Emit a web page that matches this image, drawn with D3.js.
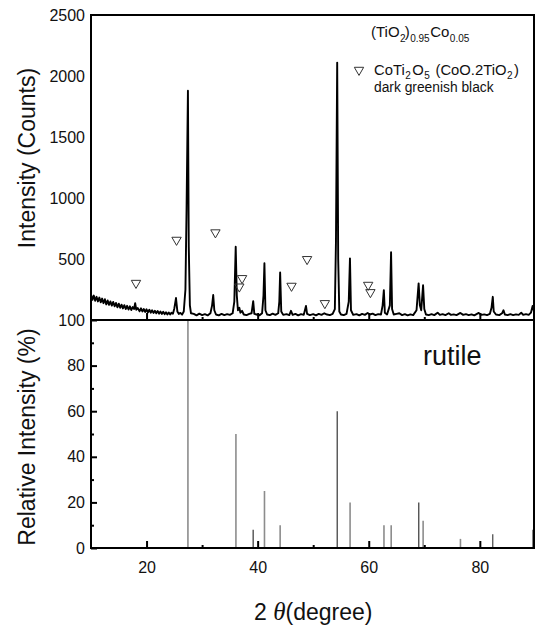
<!DOCTYPE html>
<html>
<head>
<meta charset="utf-8">
<script src="https://cdn.jsdelivr.net/npm/d3@7"></script>
<style>
  body { margin: 0; background: #fff; }
  text { font-family: "Liberation Sans", Arial, sans-serif; fill: #111; }
</style>
</head>
<body>
<div id="chart"></div>
<script>
// XRD pattern of (TiO2)0.95Co0.05, [2theta, counts]
var spectrum = [
  [10.00, 210], [10.25, 165], [10.50, 200], [10.75, 158], [11.00, 190], [11.25, 152],
  [11.50, 184], [11.75, 145], [12.00, 176], [12.25, 138], [12.50, 170], [12.75, 128],
  [13.00, 160], [13.25, 124], [13.50, 152], [13.75, 118], [14.00, 148], [14.25, 112],
  [14.50, 140], [14.75, 104], [15.00, 134], [15.25, 100], [15.50, 126], [15.75, 95],
  [16.00, 122], [16.25, 90], [16.50, 116], [16.75, 86], [17.00, 112], [17.25, 82],
  [17.50, 106], [17.75, 90], [17.95, 138], [18.15, 84], [18.40, 98], [18.75, 72],
  [19.00, 96], [19.25, 70], [19.50, 90], [19.75, 66], [20.00, 88], [20.25, 62],
  [20.50, 84], [20.75, 60], [21.00, 80], [21.25, 58], [21.50, 76], [21.75, 55],
  [22.00, 74], [22.25, 52], [22.50, 70], [22.75, 50], [23.00, 68], [23.25, 48],
  [23.50, 64], [23.75, 46], [24.00, 62], [24.25, 45], [24.50, 60], [24.75, 52],
  [25.00, 95], [25.30, 180], [25.55, 70], [25.80, 50], [26.10, 58], [26.40, 44],
  [26.70, 70], [27.00, 250], [27.20, 900], [27.45, 1880], [27.60, 600], [27.80, 120],
  [28.00, 55], [28.50, 50], [29.00, 38], [29.50, 52], [30.00, 40], [30.50, 48],
  [31.00, 38], [31.50, 55], [31.80, 120], [32.00, 205], [32.20, 80], [32.50, 45],
  [33.00, 38], [33.50, 50], [34.00, 40], [34.50, 48], [35.00, 42], [35.50, 55],
  [35.80, 150], [36.05, 600], [36.25, 200], [36.45, 80], [36.70, 100], [36.90, 60],
  [37.20, 75], [37.50, 45], [38.00, 40], [38.50, 50], [38.90, 55], [39.20, 155],
  [39.40, 50], [39.80, 45], [40.30, 38], [40.80, 55], [41.05, 200], [41.22, 465],
  [41.40, 80], [41.70, 45], [42.20, 40], [42.70, 52], [43.20, 42], [43.70, 55],
  [43.90, 150], [44.05, 390], [44.25, 70], [44.60, 42], [45.20, 48], [45.70, 40],
  [46.00, 75], [46.30, 42], [46.80, 50], [47.30, 38], [47.80, 48], [48.30, 42],
  [48.70, 115], [48.90, 50], [49.40, 40], [50.00, 48], [50.50, 38], [51.00, 50],
  [51.50, 42], [52.00, 55], [52.50, 45], [53.00, 40], [53.50, 50], [53.90, 90],
  [54.10, 650], [54.32, 2110], [54.50, 500], [54.70, 70], [55.00, 45], [55.50, 40],
  [56.00, 50], [56.40, 150], [56.62, 505], [56.80, 80], [57.20, 42], [57.80, 48],
  [58.30, 38], [58.80, 50], [59.30, 42], [59.80, 58], [60.20, 45], [60.70, 52],
  [61.20, 40], [61.70, 48], [62.20, 45], [62.50, 120], [62.72, 245], [62.90, 60],
  [63.30, 45], [63.80, 120], [64.02, 555], [64.20, 90], [64.50, 45], [65.00, 50],
  [65.50, 55], [66.00, 40], [66.50, 48], [67.00, 38], [67.50, 46], [68.00, 40],
  [68.60, 80], [68.98, 300], [69.20, 120], [69.45, 80], [69.78, 285], [70.00, 90],
  [70.30, 45], [70.80, 40], [71.30, 48], [71.80, 40], [72.40, 60], [72.80, 42],
  [73.30, 48], [73.80, 40], [74.40, 55], [74.80, 42], [75.30, 46], [75.80, 40],
  [76.50, 58], [77.00, 42], [77.50, 48], [78.00, 40], [78.50, 46], [79.00, 38],
  [79.80, 58], [80.30, 42], [80.80, 46], [81.30, 40], [81.80, 50], [82.10, 100],
  [82.33, 190], [82.50, 70], [82.90, 45], [83.50, 40], [84.00, 55], [84.26, 80],
  [84.50, 45], [85.00, 40], [85.50, 48], [86.00, 40], [86.50, 46], [87.00, 42],
  [87.45, 60], [87.80, 42], [88.30, 48], [88.80, 42], [89.20, 60], [89.50, 115],
  [89.70, 80]
];

// CoTi2O5 markers (open triangles), [2theta, counts]
var cotiMarks = [
  [18.1, 303], [25.4, 656], [32.4, 717], [36.7, 273], [37.2, 342],
  [46.1, 279], [48.9, 498], [52.1, 137], [59.9, 287], [60.3, 227]
];

// rutile reference pattern
var rutileAngle = [27.45, 36.09, 39.19, 41.23, 44.05, 54.32, 56.64, 62.74, 64.04, 69.01, 69.79, 76.51, 82.33, 89.56];
var rutileIntensity = [100, 50, 8, 25, 10, 60, 20, 10, 10, 20, 12, 4, 6, 8];

// ticks
var xTicks = [20, 40, 60, 80];
var xMinorTicks = [30, 50, 70];
var countTicks = [500, 1000, 1500, 2000, 2500];
var relTicks = [0, 20, 40, 60, 80, 100];
var relMinorTicks = [10, 30, 50, 70, 90];

// line shade of each rutile stick (styling only)
var rutileStroke = ["#8c8c8c", "#8c8c8c", "#222", "#8c8c8c", "#8c8c8c", "#222", "#8c8c8c",
  "#8c8c8c", "#8c8c8c", "#222", "#8c8c8c", "#8c8c8c", "#333", "#333"];

// Set Up Space
var svgWidth = 536;
var svgHeight = 628;
var plotLeft = 91, plotRight = 534, plotTop = 15, plotMid = 320, plotBottom = 548;

var svg = d3.select("#chart")
  .append("svg")
  .attr("width", svgWidth)
  .attr("height", svgHeight);

// Scales
var xScale = d3.scaleLinear().domain([10, 89.75]).range([plotLeft, plotRight]);
var yCounts = d3.scaleLinear().domain([0, 2500]).range([plotMid, plotTop]);
var yRel = d3.scaleLinear().domain([0, 100]).range([plotBottom, plotMid]);

// Rutile sticks
svg.append("g")
  .selectAll("line")
  .data(rutileAngle)
  .enter()
  .append("line")
    .attr("x1", d => xScale(d))
    .attr("x2", d => xScale(d))
    .attr("y1", yRel(0))
    .attr("y2", (d, i) => yRel(rutileIntensity[i]))
    .attr("stroke", (d, i) => rutileStroke[i])
    .attr("stroke-width", (d, i) => rutileStroke[i] == "#8c8c8c" ? 1.6 : 1.1);

// Spectrum
var line = d3.line()
  .x(d => xScale(d[0]))
  .y(d => yCounts(d[1]));

svg.append("path")
  .datum(spectrum)
  .attr("d", line)
  .attr("fill", "none")
  .attr("stroke", "#000")
  .attr("stroke-width", 1.9)
  .attr("stroke-linejoin", "round");

// Triangles
var tri = d3.symbol().type(d3.symbolTriangle).size(38);
svg.append("g")
  .selectAll("path")
  .data(cotiMarks)
  .enter()
  .append("path")
    .attr("d", tri)
    .attr("transform", d => `translate(${xScale(d[0])},${yCounts(d[1])}) rotate(180)`)
    .attr("fill", "none")
    .attr("stroke", "#333")
    .attr("stroke-width", 1);

// Axes
function styleAxis(g) {
  g.select(".domain").remove();
  g.selectAll("line").attr("stroke", "#000").attr("stroke-width", 2);
  g.selectAll("text").attr("font-size", "16px").attr("fill", "#111")
    .style("font-family", "'Liberation Sans', Arial, sans-serif");
}

var fmt = d3.format("d");

// top panel bottom ticks (no labels)
svg.append("g")
  .attr("transform", `translate(0, ${plotMid})`)
  .call(d3.axisBottom(xScale).tickValues(xTicks).tickSize(-7).tickFormat(""))
  .call(styleAxis);

svg.append("g")
  .attr("transform", `translate(0, ${plotMid})`)
  .call(d3.axisBottom(xScale).tickValues(xMinorTicks).tickSize(-3).tickFormat(""))
  .call(styleAxis);

// bottom panel x axis
svg.append("g")
  .attr("transform", `translate(0, ${plotBottom})`)
  .call(d3.axisBottom(xScale).tickValues(xTicks).tickSizeInner(-7).tickPadding(14).tickFormat(fmt))
  .call(styleAxis);

svg.append("g")
  .attr("transform", `translate(0, ${plotBottom})`)
  .call(d3.axisBottom(xScale).tickValues(xMinorTicks).tickSize(-3).tickFormat(""))
  .call(styleAxis);

// y axes
svg.append("g")
  .attr("transform", `translate(${plotLeft}, 0)`)
  .call(d3.axisLeft(yCounts).tickValues(countTicks).tickSize(0).tickPadding(6).tickFormat(fmt))
  .call(styleAxis);

svg.append("g")
  .attr("transform", `translate(${plotLeft}, 0)`)
  .call(d3.axisLeft(yRel).tickValues(relTicks).tickSizeInner(-6).tickPadding(6).tickFormat(fmt))
  .call(styleAxis);

svg.append("g")
  .attr("transform", `translate(${plotLeft}, 0)`)
  .call(d3.axisLeft(yRel).tickValues(relMinorTicks).tickSize(-3).tickFormat(""))
  .call(styleAxis);

// Frames
svg.append("rect")
  .attr("x", plotLeft).attr("y", plotTop)
  .attr("width", plotRight - plotLeft).attr("height", plotMid - plotTop)
  .attr("fill", "none").attr("stroke", "#000").attr("stroke-width", 2);

svg.append("rect")
  .attr("x", plotLeft).attr("y", plotMid)
  .attr("width", plotRight - plotLeft).attr("height", plotBottom - plotMid)
  .attr("fill", "none").attr("stroke", "#000").attr("stroke-width", 2);

// Labels
svg.append("text")
  .attr("transform", "translate(35, 158) rotate(-90)")
  .attr("text-anchor", "middle")
  .attr("font-size", "23px")
  .text("Intensity (Counts)");

svg.append("text")
  .attr("transform", "translate(35, 437) rotate(-90)")
  .attr("text-anchor", "middle")
  .attr("font-size", "23px")
  .text("Relative Intensity (%)");

var xTitle = svg.append("text")
  .attr("x", 254)
  .attr("y", 620)
  .attr("font-size", "23px");
xTitle.append("tspan").text("2 ");
xTitle.append("tspan")
  .style("font-family", "'Liberation Serif', 'DejaVu Serif', serif")
  .attr("font-style", "italic")
  .attr("font-size", "25px")
  .text("\u03b8");
xTitle.append("tspan").text("(degree)");

svg.append("text")
  .attr("x", 423)
  .attr("y", 365)
  .attr("font-size", "27px")
  .text("rutile");

// Sample name with subscripts
var title = svg.append("text")
  .attr("x", 371)
  .attr("y", 37)
  .attr("font-size", "15px");
title.append("tspan").text("(TiO");
title.append("tspan").attr("dy", 5).attr("dx", 0.5).attr("font-size", "10px").text("2");
title.append("tspan").attr("dy", -5).attr("dx", -1).text(")");
title.append("tspan").attr("dy", 5).attr("dx", 0.5).attr("font-size", "10px").text("0.95");
title.append("tspan").attr("dy", -5).attr("dx", 0.5).text("Co");
title.append("tspan").attr("dy", 5).attr("dx", 0.5).attr("font-size", "10px").text("0.05");

// Legend
svg.append("path")
  .attr("d", tri)
  .attr("transform", "translate(359, 70) rotate(180)")
  .attr("fill", "none")
  .attr("stroke", "#333")
  .attr("stroke-width", 1);

var leg = svg.append("text")
  .attr("x", 374)
  .attr("y", 75)
  .attr("font-size", "14.8px");
leg.append("tspan").text("CoTi");
leg.append("tspan").attr("dy", 4).attr("dx", 0.5).attr("font-size", "10px").text("2");
leg.append("tspan").attr("dy", -4).attr("dx", 1.5).text("O");
leg.append("tspan").attr("dy", 4).attr("dx", 0.5).attr("font-size", "10px").text("5");
leg.append("tspan").attr("dy", -4).attr("dx", 1.5).text(" (CoO.2TiO");
leg.append("tspan").attr("dy", 4).attr("dx", 0.5).attr("font-size", "10px").text("2");
leg.append("tspan").attr("dy", -4).attr("dx", 1.5).text(")");

svg.append("text")
  .attr("x", 374)
  .attr("y", 92)
  .attr("font-size", "13.8px")
  .text("dark greenish black");
</script>
</body>
</html>
